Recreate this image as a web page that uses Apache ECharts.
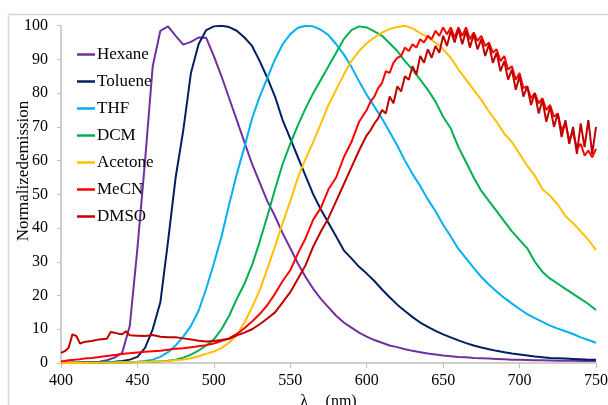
<!DOCTYPE html>
<html><head><meta charset="utf-8">
<script src="https://cdn.jsdelivr.net/npm/echarts@6/dist/echarts.min.js"></script>
<style>html,body{margin:0;padding:0;background:#fff}#c{width:608px;height:405px}</style>
</head><body><div id="c"></div>
<script>
const seriesNames = ['Hexane','Toluene','THF','DCM','Acetone','MeCN','DMSO'];
const colors = ['#7030A0','#002060','#00B0F0','#00B050','#FFC000','#FF0000','#C00000'];
const xTicks = [400,450,500,550,600,650,700,750];
const yTicks = [0,10,20,30,40,50,60,70,80,90,100];

const wl5 = [400,405,410,415,420,425,430,435,440,445,450,455,460,465,470,475,480,485,490,495,500,505,510,515,520,525,530,535,540,545,550,555,560,565,570,575,580,585,590,595,600,605,610,615,620,625,630,635,640,645,650,655,660,665,670,675,680,685,690,695,700,705,710,715,720,725,730,735,740,745,750];

const hexane = [0.1,0.1,0.1,0.2,0.2,0.4,0.8,1.6,3,11,34,60,88,98.5,99.8,97,94.4,95.2,96.5,96.4,91,85,78.5,72,65.5,59,53.5,48,43.5,38.5,34,29.5,25.5,22,19,16.5,14,12,10.5,9,7.8,6.8,6,5.2,4.7,4.1,3.6,3.2,2.8,2.5,2.2,2.0,1.8,1.7,1.5,1.4,1.3,1.2,1.1,1.0,0.95,0.9,0.85,0.8,0.75,0.7,0.7,0.65,0.6,0.6,0.6];
const toluene = [0.1,0.1,0.1,0.1,0.2,0.2,0.3,0.4,0.6,1.0,1.8,4.5,10,18,36,55,69,86,94.5,98.7,99.8,100,99.6,98.5,96.5,94,89.5,84.5,79,72,66.5,61,55.5,50,45.5,41.5,37.5,33.4,31,28.5,26.5,24.3,21.8,19.5,17.3,15.4,13.6,12,10.7,9.5,8.5,7.6,6.7,5.9,5.2,4.6,4.1,3.6,3.2,2.8,2.5,2.2,1.9,1.7,1.5,1.4,1.3,1.2,1.1,1.0,1.0];
const thf = [0.1,0.1,0.1,0.1,0.1,0.1,0.2,0.2,0.2,0.3,0.4,0.6,1.0,1.8,3.2,5.2,7.8,11,15.5,22,29.5,37.5,47,56,64,72.5,79,84.5,90,94.5,97.5,99.4,100,99.8,98.8,97.2,94.5,91.5,87.8,83.5,79.5,76,72.5,68.5,64.5,60,56,52.5,48.5,45,41,37.5,33.8,31,28.2,25.5,23.2,21.2,19.3,17.6,16,14.5,13.3,12.2,11.1,10.2,9.4,8.6,7.6,6.8,6];
const dcm = [0,0,0,0,0.1,0.1,0.1,0.1,0.2,0.2,0.3,0.3,0.4,0.5,0.7,1.0,1.6,2.5,3.7,5.2,7,10,14,19,23.5,29,36,43.5,51.5,59,65,70.5,75.5,80,84,88,92,96,98.7,99.8,99.5,98.3,97,94.8,92.5,89.5,87,84,81,77.5,73,69.5,64,59.5,55,51,48,45,42,39,36.5,34,30,27,25,23.5,22,20.5,19,17.5,15.7];
const acetone = [0,0,0,0,0.1,0.1,0.1,0.1,0.2,0.2,0.3,0.3,0.4,0.5,0.6,0.8,1.0,1.4,2.0,2.7,3.4,4.4,6,8.2,12,16.5,21.6,28,34.5,41.5,48,55,60.5,65.5,71,76.5,81,85.5,89.5,92.5,94.8,96.5,98,99,99.6,100,99.2,97.8,96.5,95,93,90.5,87,84,81,78,74.5,71.5,68,65.5,62,58.5,55.5,51.5,49.5,47,43.5,41.5,39,36.5,33.5];

const redWl = [400,402.5,405,407.5,410,412.5,415,420,425,430,432.5,435,437.5,440,442.5,445,450,455,460,465,470,475,480,485,490,495,500,505,510,515,520,525,530,535,540,545,550,555,560,565,570,575,580,585,590,595,600,602.5,605,607.5,610,612.5,615,617.5,620,622.5,625,627.5,630,632.5,635,637.5,640,642.5,645,647.5,650,652.5,655,657.5,660,662.5,665,667.5,670,672.5,675,677.5,680,682.5,685,687.5,690,692.5,695,697.5,700,702.5,705,707.5,710,712.5,715,717.5,720,722.5,725,727.5,730,732.5,735,737.5,740,742.5,745,747.5,750];
const mecn = [0.5,0.6,0.8,0.9,1.0,1.1,1.3,1.5,1.8,2.1,2.2,2.4,2.5,2.7,2.8,2.9,3.1,3.3,3.5,3.6,3.9,4.2,4.4,4.7,5.0,5.3,5.8,6.5,7.3,8.6,10.3,12.3,14.5,17.2,20.5,24.3,27.5,32.5,37,42.5,46,51.5,55,61,65.5,71.5,75,77.5,79,81.5,83,86.5,86,89,90.5,91,93.5,92.5,94.5,93.5,96,95,97,96,98.5,97,99.5,97.5,99.5,96.5,99.5,97,99.5,96,98,95.5,97,94,95,92,93,89.5,91,87,88,84,86,81.5,82,78.5,80,77,78.5,75,76.5,73,74,69,71,66,68.5,63.5,65,61.5,63,61,63.5];
const dmso = [3,3.5,4.5,8.5,8,5.8,6.2,6.5,7,7.2,9.2,9,8.7,8.5,9.4,8.2,8.1,8,8.3,7.8,7.6,7.6,7.3,7,6.6,6.4,6.5,6.8,7.2,8.2,9,10,11.5,13.2,15,18,21,25,29,34.5,39,43,48,53,58,63,67.5,69,71,72.5,75,74,79,77,82,80.5,85,84,88,85.5,91,89,93,90.5,94,92,97,94,98.5,95,99,94.5,98.5,93.5,97.5,93,96,91,94.5,89,92,86.5,89.5,84,87,81,85,79,82,76.5,80,74,78,71.5,76,70,74,67,72,65,70,62,71,64,72,62,70];

const font = "'Liberation Serif','Times New Roman',serif";
const sets = [[wl5,hexane],[wl5,toluene],[wl5,thf],[wl5,dcm],[wl5,acetone],[redWl,mecn],[redWl,dmso]];

const chart = echarts.init(document.getElementById('c'), null, {renderer:'canvas'});
chart.setOption({
  animation:false,
  backgroundColor:'#fff',
  graphic:[
    {type:'rect', shape:{x:8.5,y:14.5,width:700,height:500}, style:{fill:'none',stroke:'#D9D9D9',lineWidth:1.5}, silent:true, z:-1},
    {type:'text', x:24, y:171, rotation:Math.PI/2, style:{text:'Normalizedemission', font:"17px "+font, fill:'#000', align:'center', verticalAlign:'middle'}, silent:true}
  ],
  grid:{left:61,right:12,top:25.7,bottom:42,outerBoundsMode:'none',containLabel:false},
  legend:{
    orient:'vertical', left:72, top:41, itemWidth:18, itemHeight:2.5, itemGap:10, icon:'rect',
    textStyle:{fontFamily:font,fontSize:17,color:'#000',padding:[0,0,0,-3]},
    data:seriesNames
  },
  xAxis:{
    type:'value', min:xTicks[0], max:xTicks[xTicks.length-1], interval:50,
    axisLine:{show:true,lineStyle:{color:'#BFBFBF',width:1.5}},
    axisTick:{show:true,length:5,lineStyle:{color:'#BFBFBF'}},
    splitLine:{show:false},
    axisLabel:{fontFamily:font,fontSize:16,color:'#000',margin:10},
    name:'{a|λ}{b|em}{a| (nm)}', nameLocation:'middle', nameGap:31,
    nameTextStyle:{rich:{a:{fontFamily:font,fontSize:16,color:'#000',verticalAlign:'bottom'},b:{fontFamily:font,fontSize:11,color:'#000',verticalAlign:'bottom',padding:[0,0,-4,0]}}}
  },
  yAxis:{
    type:'value', min:yTicks[0], max:yTicks[yTicks.length-1], interval:10,
    axisLine:{show:true,lineStyle:{color:'#BFBFBF',width:1.5}},
    axisTick:{show:true,length:4,lineStyle:{color:'#BFBFBF'}},
    splitLine:{show:false},
    axisLabel:{fontFamily:font,fontSize:16,color:'#000',margin:13}
  },
  series: seriesNames.map((n,k)=>({
    name:n, type:'line', showSymbol:false, symbol:'none', smooth:false,
    color:colors[k],
    lineStyle:{color:colors[k],width:2},
    data: sets[k][0].map((x,i)=>[x, sets[k][1][i]])
  }))
});
</script></body></html>
